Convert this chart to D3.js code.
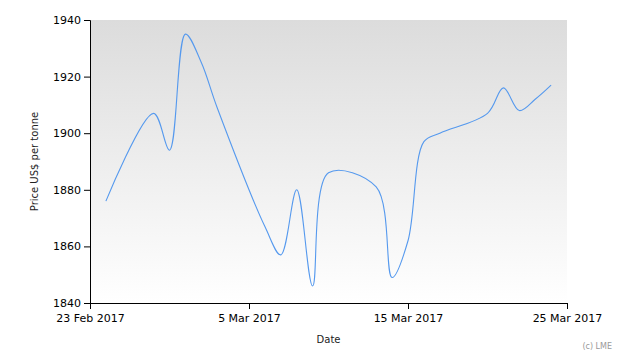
<!DOCTYPE html>
<html>
<head>
<meta charset="utf-8">
<script src="https://cdn.jsdelivr.net/npm/d3@7"></script>
<style>
  body { margin: 0; background: #fff; }
  svg { display: block; font-family: "DejaVu Sans", Verdana, sans-serif; }
</style>
</head>
<body>
<div id="chart"></div>
<script>
// LME daily prices, US$ per tonne
let dates = ['2017-02-24', '2017-02-27', '2017-02-28', '2017-03-01', '2017-03-02', '2017-03-03',
    '2017-03-06', '2017-03-07', '2017-03-08', '2017-03-09', '2017-03-10',
    '2017-03-13', '2017-03-14', '2017-03-15', '2017-03-16', '2017-03-17',
    '2017-03-20', '2017-03-21', '2017-03-22', '2017-03-23', '2017-03-24'];
let prices = [1876, 1907, 1894, 1935, 1925, 1909,
    1867, 1857, 1880, 1846, 1886,
    1881, 1849, 1862, 1897, 1900,
    1907, 1916, 1908, 1912, 1917];
let xTicks = ['2017-02-23', '2017-03-05', '2017-03-15', '2017-03-25'];
let yTicks = [1840, 1860, 1880, 1900, 1920, 1940];

let width = 630, height = 360;
let plotLeft = 90, plotRight = 567, plotTop = 20, plotBottom = 303;

let parse = d3.timeParse('%Y-%m-%d');
let fmt = d3.timeFormat('%-d %b %Y');
let data = dates.map((d, i) => ({ date: parse(d), value: prices[i] }));

let svg = d3.select('#chart')
    .append('svg')
    .attr('width', width)
    .attr('height', height);

let x = d3.scaleTime()
    .domain([parse(xTicks[0]), parse(xTicks[xTicks.length - 1])])
    .range([plotLeft, plotRight]);
let y = d3.scaleLinear()
    .domain([1840, 1940])
    .range([plotBottom, plotTop]);

// plot background gradient
let grad = svg.append('defs').append('linearGradient')
    .attr('id', 'bg')
    .attr('x1', 0).attr('y1', 0).attr('x2', 0).attr('y2', 1);
grad.append('stop').attr('offset', '0%').attr('stop-color', '#dcdcdc');
grad.append('stop').attr('offset', '100%').attr('stop-color', '#ffffff');

svg.append('rect')
    .attr('x', plotLeft)
    .attr('y', plotTop)
    .attr('width', plotRight - plotLeft)
    .attr('height', plotBottom - plotTop)
    .style('fill', 'url(#bg)');

// line
let line = d3.line()
    .x(d => x(d.date))
    .y(d => y(d.value))
    .curve(d3.curveCatmullRom.alpha(0.5));

svg.append('path')
    .datum(data)
    .attr('d', line)
    .style('fill', 'none')
    .style('stroke', '#5599ee')
    .style('stroke-width', '1.1px');

// axes
let xAxis = svg.append('g')
    .attr('transform', 'translate(0,' + plotBottom + ')')
    .call(d3.axisBottom(x)
        .tickValues(xTicks.map(parse))
        .tickFormat(fmt)
        .tickSizeOuter(0)
        .tickSize(6)
        .tickPadding(5));

let yAxis = svg.append('g')
    .attr('transform', 'translate(' + plotLeft + ',0)')
    .call(d3.axisLeft(y)
        .tickValues(yTicks)
        .tickFormat(d3.format('d'))
        .tickSizeOuter(0)
        .tickSize(6)
        .tickPadding(3));

[xAxis, yAxis].forEach(g => {
    g.selectAll('text')
        .style('font-family', '"DejaVu Sans", Verdana, sans-serif')
        .style('font-size', '11px')
        .style('fill', '#000');
    g.selectAll('line, path').style('stroke', '#000');
});

// titles
svg.append('text')
    .attr('transform', 'translate(38,' + ((plotTop + plotBottom) / 2) + ') rotate(-90)')
    .style('text-anchor', 'middle')
    .style('font-size', '10px')
    .style('fill', '#222')
    .text('Price US$ per tonne');

svg.append('text')
    .attr('x', (plotLeft + plotRight) / 2)
    .attr('y', 343)
    .style('text-anchor', 'middle')
    .style('font-size', '10px')
    .style('fill', '#222')
    .text('Date');

svg.append('text')
    .attr('x', 612)
    .attr('y', 349)
    .style('text-anchor', 'end')
    .style('font-size', '8px')
    .style('fill', '#999')
    .text('(c) LME');
</script>
</body>
</html>
